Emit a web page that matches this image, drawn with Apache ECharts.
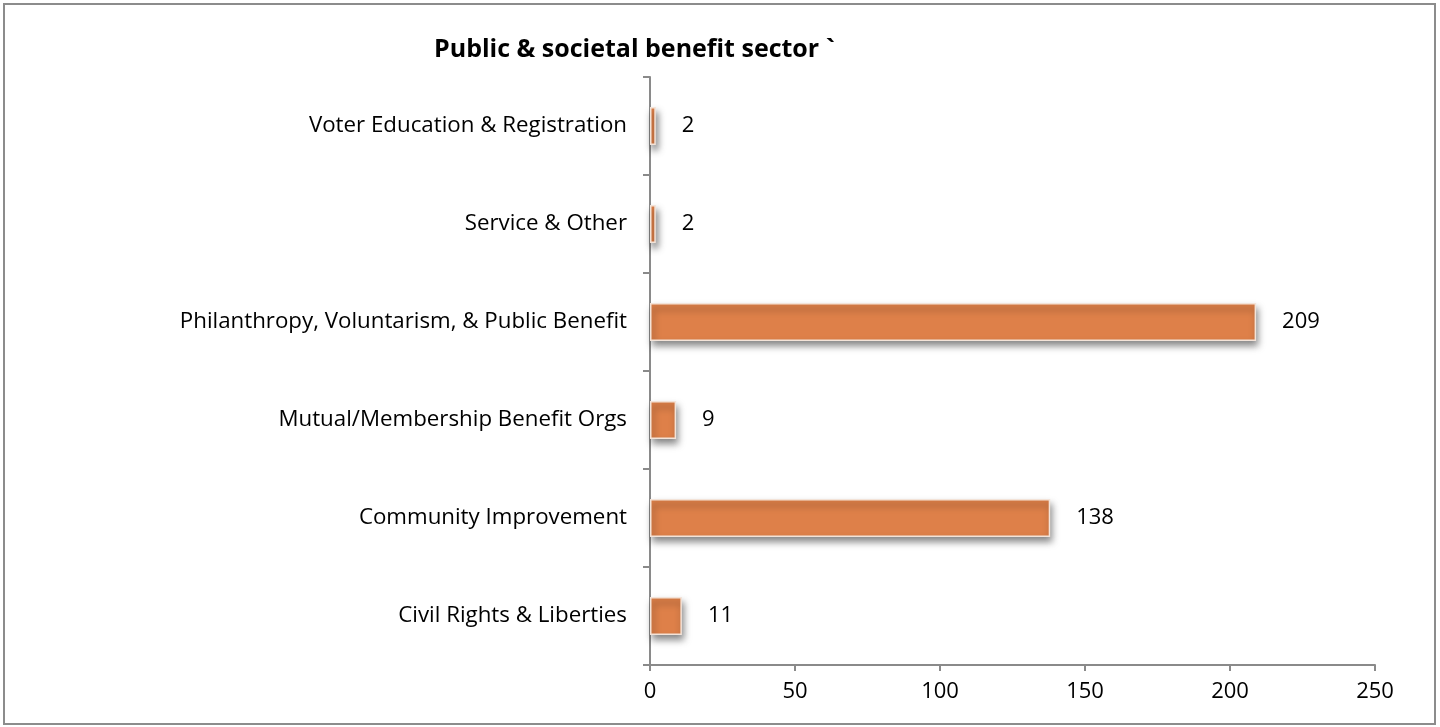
<!DOCTYPE html>
<html>
<head>
<meta charset="utf-8">
<script src="https://cdn.jsdelivr.net/npm/echarts@6/dist/echarts.min.js"></script>
<style>
  html, body { margin: 0; padding: 0; background: #ffffff; }
  #chart { width: 1440px; height: 727px; }
</style>
</head>
<body>
<div id="chart"></div>
<script>
// Subsector names, listed bottom to top as they appear on the axis
const categories = [
  'Civil Rights & Liberties',
  'Community Improvement',
  'Mutual/Membership Benefit Orgs',
  'Philanthropy, Voluntarism, & Public Benefit',
  'Service & Other',
  'Voter Education & Registration'
];
// Organisation counts per subsector
const counts = [11, 138, 9, 209, 2, 2];
// Value axis range and step
const axisMin = 0;
const axisMax = 250;
const axisStep = 50;

const FONT = '"Open Sans", "DejaVu Sans", sans-serif';

const chart = echarts.init(document.getElementById('chart'), null, { renderer: 'canvas' });

chart.setOption({
  backgroundColor: '#ffffff',
  animation: false,
  title: {
    text: 'Public & societal benefit sector `',
    left: 429,
    top: 32,
    textStyle: { fontFamily: FONT, fontSize: 25, fontWeight: 'bold', color: '#000000' }
  },
  graphic: [{
    type: 'rect',
    shape: { x: 4, y: 4, width: 1431, height: 720 },
    style: { fill: 'none', stroke: '#8c8c8c', lineWidth: 2 },
    silent: true
  }],
  grid: { left: 650, right: 65, top: 77, bottom: 62, containLabel: false },
  xAxis: {
    type: 'value',
    min: axisMin,
    max: axisMax,
    interval: axisStep,
    axisLine: { show: true, lineStyle: { color: '#8a8a8a', width: 2 } },
    axisTick: { show: true, length: 6, lineStyle: { color: '#8a8a8a', width: 2 } },
    splitLine: { show: false },
    axisLabel: { fontFamily: FONT, fontSize: 22, color: '#000000', margin: 16 }
  },
  yAxis: {
    type: 'category',
    data: categories,
    axisLine: { show: true, lineStyle: { color: '#8a8a8a', width: 2 } },
    axisTick: { show: true, length: 7, lineStyle: { color: '#8a8a8a', width: 2 } },
    splitLine: { show: false },
    axisLabel: { fontFamily: FONT, fontSize: 22.3, color: '#000000', margin: 23, padding: [4, 0, 0, 0] }
  },
  series: [{
    type: 'bar',
    data: counts,
    barWidth: 38,
    itemStyle: {
      color: '#de8049',
      borderColor: '#f3e3d8',
      borderWidth: 1.5,
      shadowColor: 'rgba(0,0,0,0.5)',
      shadowBlur: 7,
      shadowOffsetX: 2,
      shadowOffsetY: 5
    },
    label: {
      show: true,
      position: 'right',
      distance: 26,
      fontFamily: FONT,
      fontSize: 22,
      color: '#000000',
      padding: [4, 0, 0, 0]
    }
  }]
});
</script>
</body>
</html>
